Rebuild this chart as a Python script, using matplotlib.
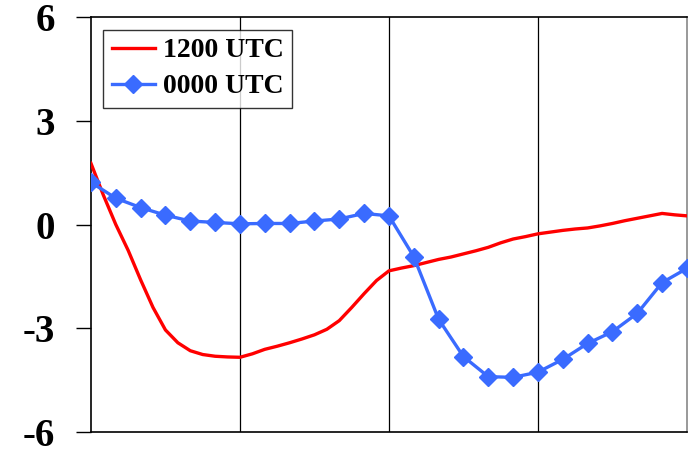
import numpy as np
import matplotlib
matplotlib.use('Agg')
import matplotlib.pyplot as plt

# 1200 UTC curve, every half step
x_12 = np.arange(0, 24.5, 0.5)
v_12 = [1.77, 0.85, 0.0, -0.75, -1.6, -2.4, -3.05, -3.42, -3.65, -3.76,
        -3.81, -3.83, -3.84, -3.74, -3.61, -3.52, -3.42, -3.31, -3.19, -3.03,
        -2.78, -2.40, -2.0, -1.62, -1.34, -1.26, -1.19, -1.10, -1.01, -0.94,
        -0.85, -0.76, -0.66, -0.53, -0.42, -0.35, -0.27, -0.22, -0.17, -0.13,
        -0.10, -0.04, 0.03, 0.11, 0.18, 0.25, 0.32, 0.28, 0.25]

# 0000 UTC curve, every step
x_00 = np.arange(0, 25, 1)
v_00 = [1.22, 0.76, 0.49, 0.27, 0.10, 0.06, 0.02, 0.03, 0.03, 0.10,
        0.16, 0.32, 0.25, -0.93, -2.74, -3.82, -4.40, -4.42, -4.27, -3.90,
        -3.44, -3.10, -2.57, -1.68, -1.27]

yticks = [-6, -3, 0, 3, 6]

plt.rcParams['font.family'] = ['Liberation Serif', 'DejaVu Serif']
plt.rcParams['font.weight'] = 'bold'

fig = plt.figure(figsize=(6.89, 4.54), dpi=100)
ax = fig.add_axes([0.132, 0.0485, 0.865, 0.914])

for g in [6, 12, 18]:
    ax.axvline(g, color='black', lw=0.9, zorder=1)

ax.plot(x_12, v_12, color='#ff0000', lw=2.4, label='1200 UTC', zorder=3)
ax.plot(x_00, v_00, color='#3a6bff', lw=2.4, marker='D', markersize=9,
        label='0000 UTC', zorder=4)

ax.set_xlim(0, 24)
ax.set_ylim(-6, 6)
ax.set_yticks(yticks)
ax.set_yticklabels([str(t) for t in yticks], fontsize=28, fontweight='bold')
ax.tick_params(axis='y', direction='out', length=11, width=1, pad=15)
ax.set_xticks([])

for s in ['left', 'bottom', 'top']:
    ax.spines[s].set_color('black')
    ax.spines[s].set_linewidth(1.2)
ax.spines['right'].set_color('#888888')
ax.spines['right'].set_linewidth(1.2)

leg = ax.legend(loc='upper left', frameon=True, fancybox=False,
                borderaxespad=0.45, handlelength=1.55, handletextpad=0.3,
                borderpad=0.3, labelspacing=0.38, prop={'weight': 'bold', 'size': 20})
leg.get_frame().set_edgecolor('black')
leg.get_frame().set_linewidth(1.0)

plt.savefig('out.png', dpi=100)
